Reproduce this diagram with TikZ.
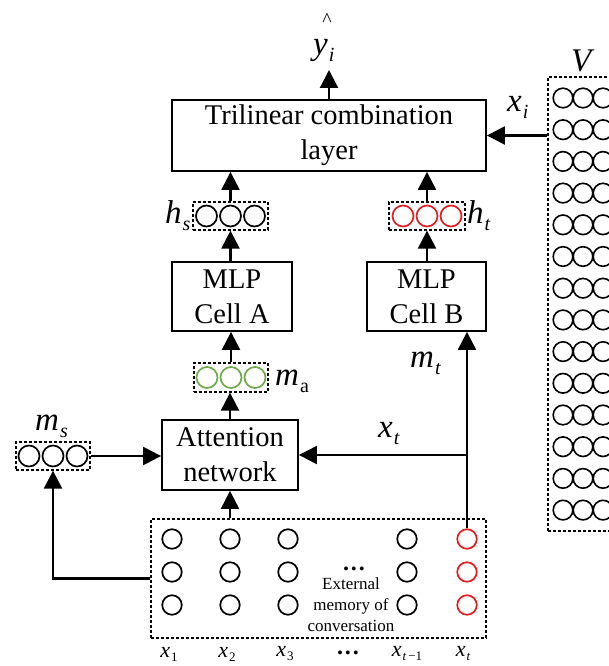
\documentclass[tikz,border=0pt]{standalone}
\usepackage{fontspec}
\setmainfont{Liberation Serif}
\usetikzlibrary{arrows.meta}
\definecolor{myred}{RGB}{225,30,35}
\definecolor{mygreen}{RGB}{110,170,75}
\newcommand\lab[5]{{\fontsize{#1}{#1}\selectfont\itshape #2}\kern1pt\raisebox{-#5pt}{\fontsize{#3}{#3}\selectfont #4}}
\newcommand\bigdots{.\kern2pt.\kern2pt.}
\begin{document}
\begin{tikzpicture}[x=1pt,y=-1pt,
  blk/.style={draw,line width=1.8pt,inner sep=0pt,align=center,font=\fontsize{28.5}{35}\selectfont},
  vec/.style={draw,line width=1.3pt,dash pattern=on 3pt off 2pt,inner sep=0pt},
  unitc/.style={circle,draw,line width=1.7pt,inner sep=0pt,minimum size=21pt},
  vc/.style={circle,draw,line width=1.6pt,inner sep=0pt,minimum size=19.6pt},
  memc/.style={circle,draw,line width=1.7pt,inner sep=0pt,minimum size=19.5pt},
  arr/.style={line width=2.2pt,-{Triangle[length=18pt,width=18pt]}},
  lbl/.style={anchor=base west,inner sep=0pt},
  dotsty/.style={inner sep=0pt,font=\fontsize{24}{24}\selectfont\bfseries},
]
\useasboundingbox (0,0) rectangle (609,666);
\clip (0,0) rectangle (609,666);

% main blocks
\node[blk,minimum width=314pt,minimum height=71pt] (tri) at (329,135.5) {Trilinear combination\\layer};
\node[blk,minimum width=120pt,minimum height=69pt] (cellA) at (232,296.5) {MLP\\Cell A};
\node[blk,minimum width=119pt,minimum height=69pt] (cellB) at (426.5,296.5) {MLP\\Cell B};
\node[blk,minimum width=136pt,minimum height=70pt] (att) at (230,455) {Attention\\network};

% vector boxes
\node[vec,minimum width=75pt,minimum height=28pt] (hs) at (230.5,216) {};
\foreach \i in {0,1,2} \node[unitc] (hs\i) at (206.5+24*\i,216) {};
\node[vec,minimum width=76pt,minimum height=28pt] (ht) at (427,216) {};
\foreach \i in {0,1,2} \node[unitc,draw=myred] (ht\i) at (403+24*\i,216) {};
\node[vec,minimum width=74pt,minimum height=29pt] (ma) at (231,377.5) {};
\foreach \i in {0,1,2} \node[unitc,draw=mygreen] (ma\i) at (207+24*\i,377.5) {};
\node[vec,minimum width=74pt,minimum height=28pt] (ms) at (53,456) {};
\foreach \i in {0,1,2} \node[unitc] (ms\i) at (29+24*\i,456) {};

% memory
\node[vec,minimum width=335pt,minimum height=119pt] (mem) at (318.5,578.5) {};
\foreach \x/\n in {172/a,230/b,288/c,407/d}
  \foreach \y/\r in {539/1,572/2,605/3}
    \node[memc] (m\n\r) at (\x,\y) {};
\foreach \y/\r in {539/1,572/2,605/3}
  \node[memc,draw=myred] (r\r) at (467,\y) {};
\node[align=center,inner sep=0pt,font=\fontsize{17}{21}\selectfont] (memtxt) at (351,605) {External\\memory of\\conversation};
\node[dotsty] (dots1) at (354,569) {\bigdots};
\node[dotsty] (dots2) at (348,653) {\bigdots};

% V matrix
\node[vec,minimum width=140pt,minimum height=454pt] (vbox) at (618,304) {};
\foreach \k in {0,...,13}
  \foreach \j in {0,...,3}
    \node[vc] (v\k\j) at (563+20*\j,98+31.7*\k) {};

% labels
\node[lbl] (yi) at (313,55) {\lab{33}{y}{20}{\itshape i}{7}};
\node[inner sep=0pt,font=\fontsize{20}{20}\selectfont] (hat) at (327,20) {\textasciicircum};
\node[lbl] (lhs) at (165,223) {\lab{33}{h}{20}{\itshape s}{7}};
\node[lbl] (lht) at (467,223) {\lab{33}{h}{20}{\itshape t}{7}};
\node[lbl] (lma) at (275,385) {\lab{33}{m}{20}{a}{7}};
\node[lbl] (lms) at (35,430) {\lab{33}{m}{20}{\itshape s}{7}};
\node[lbl] (lmt) at (410,367) {\lab{33}{m}{20}{\itshape t}{7}};
\node[lbl] (lxt) at (378,437) {\lab{33}{x}{20}{\itshape t}{7}};
\node[lbl] (lxi) at (507,112) {\lab{33}{x}{20}{\itshape i}{7}};
\node[lbl,font=\fontsize{33}{33}\selectfont\itshape] (lV) at (571,72) {V};

\node[inner sep=0pt] (x1) at (169,654) {\lab{22}{x}{13}{1}{4}};
\node[inner sep=0pt] (x2) at (227,654) {\lab{22}{x}{13}{2}{4}};
\node[inner sep=0pt] (x3) at (285,654) {\lab{22}{x}{13}{3}{4}};
\node[inner sep=0pt] (xtm) at (407,654) {\lab{22}{x}{13}{{\itshape t}\,−1}{4}};
\node[inner sep=0pt] (xtl) at (463,654) {\lab{22}{x}{13}{\itshape t}{4}};

% connectors
\coordinate (ytip) at (329,70);
\draw[arr] (tri.north) -- (ytip);
\draw[arr] (hs.north) -- (hs.north |- tri.south);
\draw[arr] (ht.north) -- (ht.north |- tri.south);
\draw[arr] (vbox.west |- tri.east) -- (tri.east);
\draw[arr] (hs.south |- cellA.north) -- (hs.south);
\draw[arr] (ht.south |- cellB.north) -- (ht.south);
\draw[arr] (ma.north) -- (ma.north |- cellA.south);
\draw[arr] (att.north) -- (att.north |- ma.south);
\draw[arr] (att.south |- mem.north) -- (att.south);
\draw[arr] (ms.east) -- (ms.east -| att.west);
\draw[arr] (mem.west) -| (ms.south);
\draw[arr] (r1.north) -- (r1.north |- cellB.south);
\draw[arr] (r1.north |- att.east) -- (att.east);
\end{tikzpicture}
\end{document}
